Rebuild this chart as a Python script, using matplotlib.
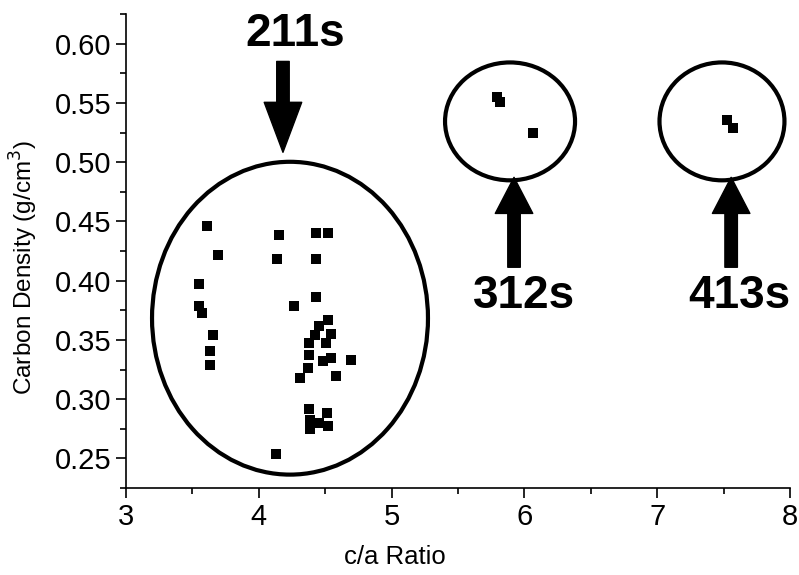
import matplotlib
matplotlib.use('Agg')
import matplotlib.pyplot as plt
from matplotlib.patches import Ellipse
from matplotlib.ticker import MultipleLocator

plt.rcParams['font.family'] = ['Liberation Sans', 'DejaVu Sans']

# data
ca_211 = [3.608, 3.695, 3.552, 3.552, 3.570, 3.657, 3.633, 3.630,
          4.150, 4.137, 4.265, 4.310, 4.127,
          4.431, 4.523, 4.431, 4.431, 4.523, 4.456, 4.423, 4.544, 4.380,
          4.506, 4.376, 4.486, 4.544, 4.694, 4.368, 4.581, 4.380, 4.511,
          4.386, 4.456, 4.519, 4.386]
rho_211 = [0.4462, 0.4217, 0.3973, 0.3785, 0.3728, 0.3538, 0.3405, 0.3290,
           0.4383, 0.4181, 0.3782, 0.3180, 0.2534,
           0.4406, 0.4406, 0.4181, 0.3860, 0.3672, 0.3616, 0.3540, 0.3546, 0.3470,
           0.3470, 0.3371, 0.3321, 0.3349, 0.3329, 0.3259, 0.3194, 0.2914, 0.2880,
           0.2823, 0.2796, 0.2773, 0.2745]
ca_312 = [5.791, 5.816, 6.067]
rho_312 = [0.5549, 0.5507, 0.5249]
ca_413 = [7.528, 7.573]
rho_413 = [0.5359, 0.5288]

groups = ['211s', '312s', '413s']
# ellipse centre, width, height (data units)
ell = {'211s': (4.235, 0.3683, 2.078, 0.264),
       '312s': (5.892, 0.5344, 0.979, 0.0995),
       '413s': (7.488, 0.5344, 0.941, 0.0995)}
# arrow tip, tail and label position
arr = {'211s': ((4.182, 0.5083), (4.182, 0.585), (4.273, 0.6078)),
       '312s': ((5.922, 0.4872), (5.922, 0.4113), (6.000, 0.3869)),
       '413s': ((7.557, 0.4872), (7.557, 0.4113), (7.620, 0.3869))}

fig = plt.figure(figsize=(7.99, 5.75), dpi=100)
ax = fig.add_axes([0.1577, 0.1513, 0.831, 0.8243])

for xs, ys in [(ca_211, rho_211), (ca_312, rho_312), (ca_413, rho_413)]:
    ax.plot(xs, ys, 's', color='black', ms=7, mew=0)

for g in groups:
    cx, cy, w, h = ell[g]
    ax.add_patch(Ellipse((cx, cy), w, h, fill=False, lw=3, ec='black'))
    tip, tail, lab = arr[g]
    hl = 36 if g == '211s' else 26
    ax.annotate('', xy=tip, xytext=tail,
                arrowprops=dict(facecolor='black', edgecolor='black', width=9,
                                headwidth=27, headlength=hl, shrink=0))
    ax.text(lab[0], lab[1], g, fontsize=33, fontweight='bold',
            ha='center', va='center', clip_on=False)

ax.set_xlim(3, 8)
ax.set_ylim(0.225, 0.625)
ax.xaxis.set_major_locator(MultipleLocator(1))
ax.xaxis.set_minor_locator(MultipleLocator(0.5))
ax.yaxis.set_major_locator(MultipleLocator(0.05))
ax.yaxis.set_minor_locator(MultipleLocator(0.025))
ax.yaxis.set_major_formatter(lambda v, p: f'{v:.2f}')

for s in ['top', 'right']:
    ax.spines[s].set_visible(False)
for s in ['left', 'bottom']:
    ax.spines[s].set_linewidth(1.2)
ax.tick_params(which='major', direction='out', length=7, width=1.2, labelsize=21)
ax.tick_params(which='minor', direction='out', length=4, width=1.2)

ax.set_xlabel('c/a Ratio', fontsize=18.5)
ax.set_ylabel('Carbon Density (g/cm$^3$)', fontsize=17.5)
ax.xaxis.set_label_coords(0.405, -0.12)
ax.yaxis.set_label_coords(-0.13, 0.466)

fig.savefig('out.png', dpi=100)
